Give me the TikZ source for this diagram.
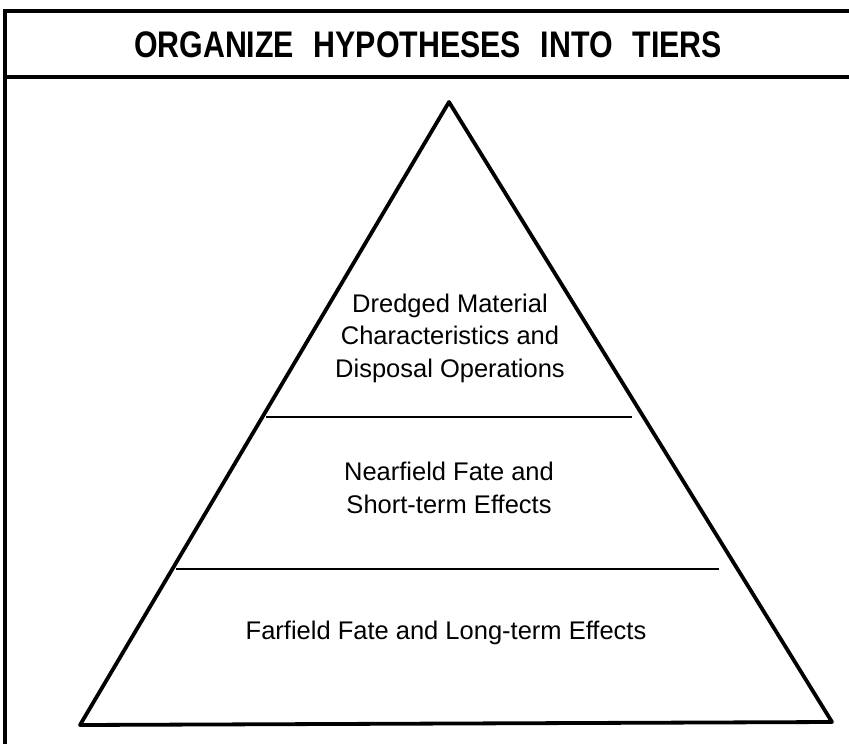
\documentclass[tikz,border=0pt]{standalone}
\usepackage{fontspec}
\setmainfont{Liberation Sans}
\begin{document}
\begin{tikzpicture}[x=1pt,y=-1pt,
  frameline/.style={line width=3.5pt},
  pyramid/.style={line width=3.8pt,line join=round},
  tierline/.style={line width=2.8pt},
  tiertext/.style={align=center,font=\fontsize{25.5}{32.5}\selectfont},
  titletext/.style={font=\bfseries\fontsize{37}{40}\selectfont}]
  \useasboundingbox (0,0) rectangle (849,744);
  % frame with title band
  \coordinate (ftl) at (5,11);
  \coordinate (ftr) at (849,11);
  \coordinate (fbl) at (5,744);
  \coordinate (sepl) at (5,77);
  \coordinate (sepr) at (849,77);
  \draw[frameline] (ftr) -- (ftl) -- (fbl);
  \draw[frameline] (sepl) -- (sepr);
  \node[titletext] (title) at (428,45)
    {\scalebox{0.82}[1]{ORGANIZE\hskip0.65em HYPOTHESES\hskip0.65em INTO\hskip0.65em TIERS}};
  % pyramid
  \coordinate (apex) at (449,102);
  \coordinate (bl) at (80,725);
  \coordinate (br) at (832,722);
  \draw[pyramid] (apex) -- (bl) -- (br) -- cycle;
  \coordinate (t1l) at (266,417);
  \coordinate (t1r) at (632,417);
  \coordinate (t2l) at (176,569);
  \coordinate (t2r) at (719,569);
  \draw[tierline] (t1l) -- (t1r);
  \draw[tierline] (t2l) -- (t2r);
  \node[tiertext] (top) at (450,338) {Dredged Material\\Characteristics and\\Disposal Operations};
  \node[tiertext] (mid) at (449,488) {Nearfield Fate and\\Short-term Effects};
  \node[tiertext] (low) at (446,633) {Farfield Fate and Long-term Effects};
\end{tikzpicture}
\end{document}
